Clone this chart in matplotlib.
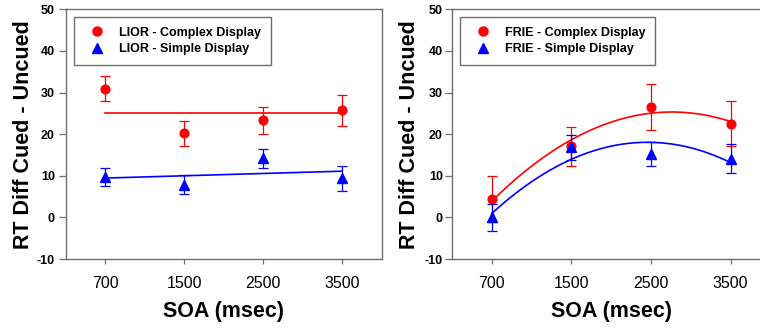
import numpy as np
import matplotlib
matplotlib.use("Agg")
import matplotlib.pyplot as plt
from matplotlib.lines import Line2D

plt.rcParams['font.family'] = ['Liberation Sans', 'DejaVu Sans']

soa = ['700', '1500', '2500', '3500']

# LIOR panel
lior_complex = [30.9, 20.2, 23.3, 25.7]
lior_complex_err = [3.0, 3.0, 3.3, 3.7]
lior_simple = [9.7, 7.8, 14.2, 9.4]
lior_simple_err = [2.2, 2.3, 2.3, 3.0]

# FRIE panel
frie_complex = [4.4, 17.1, 26.6, 22.5]
frie_complex_err = [5.5, 4.7, 5.5, 5.4]
frie_simple = [0.0, 16.8, 15.2, 14.1]
frie_simple_err = [3.2, 2.9, 2.9, 3.5]

RED = '#ff0000'
BLUE = '#0000ff'
SPINE = '#6e6e6e'


def draw_panel(ax, complex_vals, complex_err, simple_vals, simple_err,
               deg_complex, deg_simple, name, ylabelpad, ytickpad):
    x = np.arange(1, len(soa) + 1)
    xs = np.linspace(1, len(soa), 200)

    # fitted lines / curves
    pc = np.polyfit(x, complex_vals, deg_complex)
    ps = np.polyfit(x, simple_vals, deg_simple)
    ax.plot(xs, np.polyval(pc, xs) * np.ones_like(xs), color=RED, lw=1.2, zorder=2)
    ax.plot(xs, np.polyval(ps, xs) * np.ones_like(xs), color=BLUE, lw=1.2, zorder=2)

    ax.errorbar(x, complex_vals, yerr=complex_err, fmt='o', color=RED,
                ms=6.3, elinewidth=0.9, capsize=3.3, capthick=0.9, zorder=3)
    ax.errorbar(x, simple_vals, yerr=simple_err, fmt='^', color=BLUE,
                ms=6.5, elinewidth=0.9, capsize=3.3, capthick=0.9, zorder=3)

    ax.set_xlim(0.5, len(soa) + 0.5)
    ax.set_ylim(-10, 50)
    ax.set_xticks(x)
    ax.set_xticklabels(soa, fontsize=11.5)
    ax.set_yticks(range(-10, 51, 10))
    ax.set_yticklabels([str(v) for v in range(-10, 51, 10)],
                       fontsize=9, fontweight='bold')
    ax.tick_params(axis='y', length=5, width=0.9, color=SPINE, pad=ytickpad)
    ax.tick_params(axis='x', length=3.5, width=0.9, color=SPINE, pad=9)
    for sp in ax.spines.values():
        sp.set_color(SPINE)
        sp.set_linewidth(1.0)

    ax.set_xlabel('SOA (msec)', fontsize=15.5, fontweight='bold', labelpad=7)
    ax.set_ylabel('RT Diff Cued - Uncued', fontsize=15.5, fontweight='bold',
                  labelpad=ylabelpad)

    handles = [
        Line2D([], [], ls='none', marker='o', color=RED, ms=6.5),
        Line2D([], [], ls='none', marker='^', color=BLUE, ms=6.5),
    ]
    labels = [f'{name} - Complex Display', f'{name} - Simple Display']
    leg = ax.legend(handles, labels, loc='upper left',
                    bbox_to_anchor=(0.026, 0.97), borderaxespad=0,
                    prop={'size': 9, 'weight': 'bold'},
                    fancybox=False, framealpha=1, edgecolor=SPINE,
                    handlelength=2.0, handletextpad=0.75, borderpad=0.8,
                    labelspacing=0.34)
    leg.get_frame().set_linewidth(1.0)


fig = plt.figure(figsize=(7.6, 3.32), dpi=100)
ax1 = fig.add_axes([66 / 760, 73 / 332, 315.5 / 760, 249.7 / 332])
ax2 = fig.add_axes([452 / 760, 73 / 332, 318.5 / 760, 249.7 / 332])

draw_panel(ax1, lior_complex, lior_complex_err, lior_simple, lior_simple_err,
           0, 1, 'LIOR', 2, 3)
draw_panel(ax2, frie_complex, frie_complex_err, frie_simple, frie_simple_err,
           2, 2, 'FRIE', 3.5, 1.5)

fig.savefig('out.png', dpi=100)
